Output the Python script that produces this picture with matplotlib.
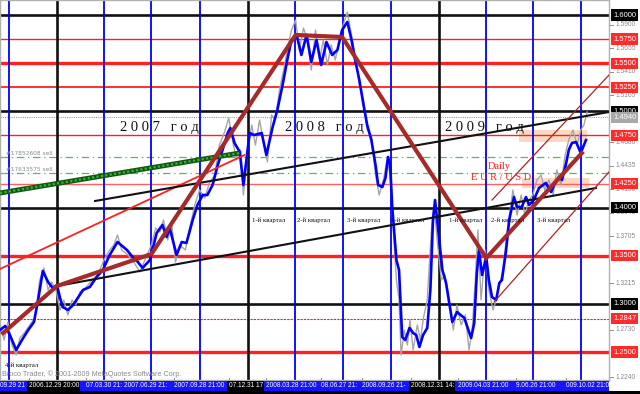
import matplotlib
matplotlib.use('Agg')
import matplotlib.pyplot as plt
import matplotlib.dates as mdates
import numpy as np
from matplotlib.transforms import blended_transform_factory
from matplotlib.patches import Rectangle

BASE = '2006-09-14'

# smoothed close (blue): day offset from BASE, price
blue_days = [0, 10, 19, 31, 42, 54, 65, 73, 82, 92, 101, 109, 115, 120, 130, 140, 149, 159, 172, 185,
             197, 210, 225, 243, 254, 264, 273, 287, 300, 311, 319, 325, 338, 348, 357, 369, 378, 388,
             397, 407, 417, 426, 436, 441, 449, 459, 466, 478, 487, 501, 510, 522, 531, 541, 550, 558,
             568, 577, 587, 596, 606, 615, 625, 636, 646, 655, 665, 673, 680, 688, 696, 703, 711, 719,
             724, 732, 738, 743, 747, 751, 759, 764, 770, 776, 784, 791, 797, 803, 810, 818, 824, 829,
             833, 841, 847, 854, 866, 875, 889, 902, 908, 913, 917, 923, 931, 936, 942, 950, 956, 961,
             969, 975, 984, 990, 999, 1007, 1013, 1022, 1032, 1045, 1055, 1061, 1070, 1076, 1084, 1089,
             1095, 1103, 1112, 1118, 1122]
blue_price = [1.2729, 1.2771, 1.2677, 1.2522, 1.2625, 1.2729, 1.2812, 1.3041, 1.3342, 1.3228, 1.3165,
              1.3197, 1.3062, 1.2968, 1.2937, 1.2989, 1.3062, 1.3145, 1.3176, 1.3280, 1.3352, 1.3508,
              1.3643, 1.3560, 1.3487, 1.3435, 1.3373, 1.3456, 1.3737, 1.3820, 1.3695, 1.3788, 1.3508,
              1.3643, 1.3633, 1.3872, 1.4027, 1.4131, 1.4131, 1.4235, 1.4443, 1.4598, 1.4775, 1.4827,
              1.4671, 1.4578, 1.4235, 1.4775, 1.4754, 1.4775, 1.4546, 1.4837, 1.5014, 1.5273, 1.5533,
              1.5741, 1.5793, 1.5585, 1.5793, 1.5512, 1.5741, 1.5481, 1.5720, 1.5585, 1.5637, 1.5844,
              1.5928, 1.5741, 1.5533, 1.5325, 1.5066, 1.4858, 1.4702, 1.4443, 1.4235, 1.4214, 1.4308,
              1.4526, 1.4443, 1.4007, 1.3456, 1.3352, 1.2657, 1.2625, 1.2750, 1.2698, 1.2677, 1.2553,
              1.2677, 1.2750, 1.3145, 1.3872, 1.4079, 1.3664, 1.3352, 1.3217, 1.2812, 1.2916, 1.2854,
              1.2646, 1.2802, 1.3321, 1.3560, 1.3300, 1.3487, 1.3248, 1.3072, 1.3041, 1.3217, 1.3248,
              1.3560, 1.3872, 1.4110, 1.4007, 1.4007, 1.4110, 1.4027, 1.4079, 1.4204, 1.4256, 1.4162,
              1.4235, 1.4318, 1.4287, 1.4463, 1.4598, 1.4671, 1.4681, 1.4567, 1.4650, 1.4702]

# daily close (gray)
gray_days = [0, 8, 15, 23, 31, 38, 48, 57, 67, 76, 84, 92, 99, 107, 115, 122, 130, 138, 145, 153, 164,
             176, 187, 199, 210, 218, 225, 233, 245, 256, 268, 279, 290, 298, 306, 313, 321, 329, 336,
             344, 355, 363, 373, 382, 392, 401, 411, 420, 430, 438, 445, 453, 461, 466, 474, 482, 489,
             497, 504, 512, 520, 527, 535, 543, 550, 558, 566, 573, 581, 589, 596, 604, 612, 619, 627,
             634, 642, 650, 657, 665, 673, 680, 688, 696, 703, 711, 719, 726, 734, 741, 747, 753, 759,
             764, 768, 774, 780, 785, 791, 799, 805, 810, 818, 826, 831, 837, 845, 852, 860, 868, 875,
             883, 891, 898, 904, 910, 915, 921, 929, 936, 944, 950, 956, 963, 971, 977, 982, 990, 998,
             1005, 1013, 1020, 1028, 1036, 1043, 1051, 1059, 1066, 1074, 1082, 1089, 1097, 1105, 1112,
             1118, 1124]
gray_price = [1.2781, 1.2625, 1.2812, 1.2574, 1.2470, 1.2646, 1.2709, 1.2781, 1.2854, 1.3248, 1.3373,
              1.3145, 1.3228, 1.3145, 1.2937, 1.3041, 1.2885, 1.3041, 1.2989, 1.3124, 1.3165, 1.3248,
              1.3300, 1.3456, 1.3560, 1.3612, 1.3716, 1.3560, 1.3508, 1.3435, 1.3332, 1.3477, 1.3612,
              1.3788, 1.3747, 1.3872, 1.3664, 1.3820, 1.3435, 1.3612, 1.3560, 1.3788, 1.4027, 1.4183,
              1.4100, 1.4256, 1.4339, 1.4650, 1.4785, 1.4931, 1.4702, 1.4495, 1.4598, 1.4131, 1.4598,
              1.4858, 1.4650, 1.4910, 1.4702, 1.4474, 1.4962, 1.4910, 1.5221, 1.5429, 1.5637, 1.5844,
              1.5948, 1.5637, 1.5865, 1.5741, 1.5429, 1.5844, 1.5533, 1.5741, 1.5481, 1.5689, 1.5533,
              1.5741, 1.5896, 1.6031, 1.5793, 1.5585, 1.5273, 1.5118, 1.4806, 1.4754, 1.4339, 1.4131,
              1.4287, 1.4495, 1.4339, 1.3768, 1.3248, 1.3041, 1.2470, 1.2729, 1.2574, 1.2833, 1.2522,
              1.2781, 1.2625, 1.2833, 1.3041, 1.3768, 1.4027, 1.3664, 1.3248, 1.3300, 1.3041, 1.2729,
              1.2989, 1.2781, 1.2885, 1.2522, 1.2729, 1.3248, 1.3768, 1.3041, 1.3560, 1.3145, 1.2937,
              1.3041, 1.3197, 1.3352, 1.3768, 1.3975, 1.4183, 1.3923, 1.4131, 1.3923, 1.4079, 1.4131,
              1.4287, 1.4339, 1.4183, 1.4287, 1.4131, 1.4391, 1.4235, 1.4546, 1.4702, 1.4806, 1.4650,
              1.4806, 1.4858, 1.4993]

# zigzag trend (brown)
zig_days = [6, 109, 290, 566, 655, 931, 1114]
zig_price = [1.2698, 1.3186, 1.3518, 1.5793, 1.5772, 1.3477, 1.4567]

# straight trend lines: (day0, price0, day1, price1)
black_up = (182, 1.4069, 1166, 1.4993)
black_low = (109, 1.3186, 1141, 1.4204)
red_line = (0, 1.3363, 468, 1.4546)
green_line = (0, 1.4152, 459, 1.4567)
chan_up = (942, 1.4079, 1166, 1.5377)
chan_low = (946, 1.3020, 1166, 1.4370)

# horizontal levels
black_levels = [1.6000, 1.5000, 1.4000, 1.3000]
red_levels = [1.5750, 1.5500, 1.5250, 1.4750, 1.4250, 1.3500, 1.2847, 1.2500]
red_widths = [1.0, 2.4, 1.3, 1.0, 1.0, 2.4, 0.8, 2.4]
sell_levels = [1.4525, 1.4360]
sell_labels = ['#17852608 sell', '#17633575 sell']
bid_level = 1.4940

# vertical separators
year_lines = ['2007-01-01', '2008-01-01', '2009-01-01']
quarter_lines = ['2006-10-01', '2007-04-01', '2007-07-01', '2007-10-01', '2008-04-01', '2008-07-01',
                 '2008-10-01', '2009-04-01', '2009-07-01', '2009-10-01']

# shaded zones: (day0, day1, p_low, p_high)
zones = [(994, 1124, 1.4681, 1.4806), (999, 1127, 1.4204, 1.4308)]

# annotations
year_text = ['2 0 0 7   г о д', '2 0 0 8   г о д', '2 0 0 9   г о д']
year_text_days = [306, 621, 927]
year_text_price = 1.4832
quarter_text = ['1-й квартал', '2-й квартал', '3-й квартал', '4-й квартал',
                '1-й квартал', '2-й квартал', '3-й квартал']
quarter_text_days = [482, 569, 665, 749, 860, 940, 1028]
quarter_text_price = 1.3872

# right price scale
scale_gray = [1.5900, 1.5655, 1.5410, 1.5165, 1.4680, 1.4435, 1.4190, 1.3945, 1.3705,
              1.3215, 1.2730, 1.2240]
box_vals = [1.6000, 1.5750, 1.5500, 1.5250, 1.5000, 1.4940, 1.4750, 1.4250, 1.4000, 1.3500,
            1.3000, 1.2847, 1.2500]
box_cols = ['black', '#ff2a2a', '#ff2a2a', '#ff2a2a', 'black', '#a8a8a8', '#ff2a2a', '#ff2a2a', 'black',
            '#ff2a2a', 'black', '#ff2a2a', '#ff2a2a']

# time scale labels
time_labels = ['09.29 21', '2006.12.29 20:00', '07.03.30 21:', '2007.06.29 21:', '2007.09.28 21:00',
               '07.12.31 17', '2008.03.28 21:00', '08.06.27 21:', '2008.09.26 21-', '2008.12.31 14:',
               '2009.04.03 21:00', '9.06.26 21:00', '009.10.02 21:00']
time_label_days = [0, 55, 164, 237, 334, 438, 510, 615, 694, 786, 877, 988, 1084]
time_label_black = [False, True, False, False, False, True, False, False, False, True, False, False, False]

base = mdates.datestr2num(BASE)
def X(d):
    return base + np.asarray(d, dtype=float)

fig = plt.figure(figsize=(6.4, 3.94), dpi=100)
fig.patch.set_facecolor('white')
ax = fig.add_axes([0, 14 / 394, 609 / 640, 380 / 394])
ax.set_facecolor('white')
ax.set_xlim(X(0), X(1166))
ax.set_ylim(1.2210, 1.6156)
ax.set_xticks([])
ax.set_yticks([])
for s in ax.spines.values():
    s.set_color('#b0b0b0')
    s.set_linewidth(1)

# shaded zones
for d0, d1, lo, hi in zones:
    ax.fill_between(X([d0, d1]), lo, hi, color='#fad9c2', lw=0, zorder=1)

# horizontal levels
for lv in black_levels:
    ax.axhline(lv, color='#111111', lw=1.9, zorder=2)
for lv, w in zip(red_levels, red_widths):
    if abs(lv - 1.2847) < 1e-6:
        ax.axhline(lv, color='#ff2020', lw=w, ls=(0, (2, 1)), zorder=2)
    elif abs(lv - 1.4250) < 1e-6:
        ax.axhline(lv, color='#ff6060', lw=w, zorder=2)
    else:
        ax.axhline(lv, color='#ff2020', lw=w, zorder=2)
for lv in sell_levels:
    ax.axhline(lv, color='#5cb85c', lw=0.9, ls=(0, (6, 3, 1, 3)), zorder=2)
ax.axhline(bid_level, color='#a0a0a0', lw=0.8, ls=(0, (1, 1)), zorder=2)

# vertical lines
for d in quarter_lines:
    ax.axvline(mdates.datestr2num(d), color='#0000ff', lw=1.3, zorder=2)
for d in year_lines:
    ax.axvline(mdates.datestr2num(d), color='#111111', lw=1.9, zorder=2)

# price lines
ax.plot(X(gray_days), gray_price, color='#a6a6a6', lw=1.0, zorder=3)
ax.plot(X(blue_days), blue_price, color='#0000ff', lw=1.9, zorder=4)

# trend lines
def seg(t, **kw):
    ax.plot(X([t[0], t[2]]), [t[1], t[3]], **kw)

seg(green_line, color='#0f5a0f', lw=3.6, zorder=5, solid_capstyle='butt')
seg(green_line, color='#3fae3f', lw=1.6, ls=(0, (1, 1)), zorder=5)
seg(red_line, color='#ff2020', lw=1.3, zorder=5)
seg(black_up, color='#111111', lw=1.5, zorder=5)
seg(black_low, color='#111111', lw=1.5, zorder=5)
seg(chan_up, color='#b22222', lw=0.9, zorder=5)
seg(chan_low, color='#b22222', lw=0.9, zorder=5)
ax.plot(X(zig_days), zig_price, color='#a52a2a', lw=3.0, zorder=6, solid_joinstyle='miter')

# texts
for t, d in zip(year_text, year_text_days):
    ax.text(X(d), year_text_price, t, fontsize=10.5, family='Liberation Serif', ha='center',
            va='center', color='#111111', zorder=7)
for t, d in zip(quarter_text, quarter_text_days):
    ax.text(X(d), quarter_text_price, t, fontsize=4.9, family='Liberation Serif', ha='left',
            va='center', color='#111111', zorder=7)
ax.text(X(10), 1.2366, '4-й квартал', fontsize=4.9, family='Liberation Serif', ha='left',
        va='center', color='#111111', zorder=7)
ax.text(X(956), 1.4432, 'Daily', fontsize=7.5, family='Liberation Serif', ha='center',
        va='center', color='#ff2020', zorder=7)
ax.text(X(959), 1.4308, 'E U R / U S D', fontsize=7.5, family='Liberation Serif', ha='center',
        va='center', color='#ff2020', zorder=7)
for lv, lab in zip(sell_levels, sell_labels):
    ax.text(X(11), lv + 0.0035, lab, fontsize=4.2, ha='left', va='center', color='#8a8a8a', zorder=7)
ax.text(0.004, 0.004, 'Broco Trader, © 2001-2009 MetaQuotes Software Corp.', transform=ax.transAxes,
        fontsize=5.2, family='Liberation Sans', ha='left', va='bottom', color='#8a8a8a', zorder=7)

# right price scale
tr = blended_transform_factory(fig.transFigure, ax.transData)
for v in scale_gray:
    ax.plot([610 / 640, 613 / 640], [v, v], transform=tr, color='#8a8a8a', lw=0.7, clip_on=False)
    fig.text(616 / 640, v, f'{v:.4f}', transform=tr, fontsize=4.8, family='Liberation Sans',
             ha='left', va='center', color='#8a8a8a', zorder=3)
for v, c in zip(box_vals, box_cols):
    fig.text(613 / 640, v, f'{v:.4f}', transform=tr, fontsize=5.4, family='Liberation Sans',
             ha='left', va='center', color='white', zorder=4,
             bbox=dict(boxstyle='square,pad=0.28', fc=c, ec='none'))

# time scale band
fig.patches.append(Rectangle((0, 0), 1, 3.5 / 394, transform=fig.transFigure, fc='black', ec='none'))
fig.patches.append(Rectangle((0, 3.5 / 394), 609 / 640, 9.5 / 394, transform=fig.transFigure,
                             fc='#1414ff', ec='none'))
tb = blended_transform_factory(ax.transData, fig.transFigure)
for t, d, blk in zip(time_labels, time_label_days, time_label_black):
    kw = dict(transform=tb, fontsize=4.7, family='Liberation Sans', ha='left', va='center',
              color='white', zorder=5)
    if blk:
        kw['bbox'] = dict(boxstyle='square,pad=0.2', fc='black', ec='none')
    fig.text(X(d), 8.2 / 394, t, **kw)
    ax.plot([X(d), X(d)], [13 / 394, 16 / 394], transform=tb, color='#8a8a8a', lw=0.7, clip_on=False)

fig.savefig('out.png', dpi=100)
